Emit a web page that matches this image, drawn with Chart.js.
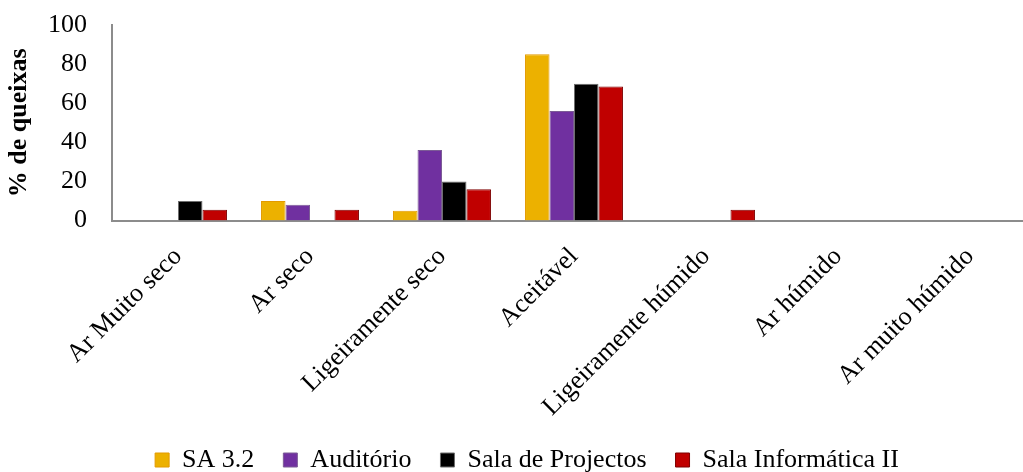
<!DOCTYPE html>
<html>
<head>
<meta charset="utf-8">
<script src="https://cdn.jsdelivr.net/npm/chart.js@4/dist/chart.umd.min.js"></script>
<style>
  html, body { margin: 0; padding: 0; background: #fff; overflow: hidden; }
  #wrap { width: 1036px; height: 472px; }
</style>
</head>
<body>
<div id="wrap"><canvas id="c" width="1036" height="472"></canvas></div>
<script>
// Humidity perception categories
const categories = [
  'Ar Muito seco', 'Ar seco', 'Ligeiramente seco', 'Aceitável',
  'Ligeiramente húmido', 'Ar húmido', 'Ar muito húmido'
];

// % of complaints per room
const sa32          = [0, 10, 5, 85, 0, 0, 0];
const auditorio     = [0, 8, 36, 56, 0, 0, 0];
const salaProjectos = [10, 0, 20, 70, 0, 0, 0];
const salaInfII     = [5.5, 5.5, 16, 68.5, 5.5, 0, 0];

const yTicks = [0, 20, 40, 60, 80, 100];

const serif = "'Liberation Serif', 'Times New Roman', serif";

new Chart(document.getElementById('c'), {
  type: 'bar',
  data: {
    labels: categories,
    datasets: [
      { label: 'SA 3.2', data: sa32, backgroundColor: '#ECB100', borderColor: '#E39A00', borderWidth: 1 },
      { label: 'Auditório', data: auditorio, backgroundColor: '#7030A0', borderColor: '#7C5C96', borderWidth: 1 },
      { label: 'Sala de Projectos', data: salaProjectos, backgroundColor: '#000000', borderColor: '#6E6E6E', borderWidth: 1 },
      { label: 'Sala Informática II', data: salaInfII, backgroundColor: '#C00000', borderColor: '#7E0000', borderWidth: 1 }
    ]
  },
  options: {
    responsive: false,
    animation: false,
    devicePixelRatio: 1,
    layout: { padding: { top: 0, right: 0, left: 18, bottom: -11 } },
    datasets: { bar: { categoryPercentage: 0.742, barPercentage: 1.0 } },
    scales: {
      x: {
        afterFit: (scale) => { scale.height = 197.5; },
        grid: { display: false, drawTicks: false },
        border: { display: true, color: '#8C8C8C', width: 2 },
        ticks: {
          color: '#000',
          font: { family: serif, size: 26 },
          minRotation: 45, maxRotation: 45,
          padding: 21,
          autoSkip: false
        }
      },
      y: {
        min: 0, max: 100,
        afterBuildTicks: (scale) => { scale.ticks = yTicks.map(v => ({ value: v })); },
        afterFit: (scale) => { scale.width = 94; scale.paddingTop = 25; scale.paddingBottom = 13; },
        grid: { display: false, drawTicks: false },
        border: { display: true, color: '#8C8C8C', width: 2 },
        ticks: {
          color: '#000',
          font: { family: serif, size: 26 },
          padding: 25
        },
        title: {
          display: true,
          text: '% de queixas',
          color: '#000',
          font: { family: serif, size: 26, weight: 'bold' },
          padding: { top: -14, bottom: 4 }
        }
      }
    },
    plugins: {
      legend: {
        position: 'bottom',
        labels: {
          color: '#000',
          font: { family: serif, size: 26 },
          boxWidth: 14, boxHeight: 14,
          padding: 29
        }
      },
      tooltip: { enabled: false }
    }
  }
});
</script>
</body>
</html>
